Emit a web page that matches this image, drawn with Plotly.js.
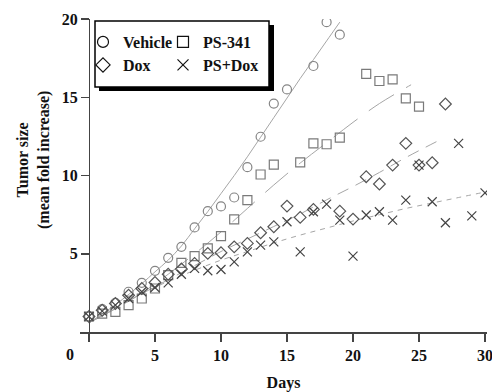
<!DOCTYPE html>
<html>
<head>
<meta charset="utf-8">
<script src="https://cdn.plot.ly/plotly-3.0.1.min.js"></script>
<style>html,body{margin:0;padding:0;background:#fff;}#chart{width:492px;height:392px;}</style>
</head>
<body>
<div id="chart"></div>
<script>
// ---- data ----
var vehDays = [0,1,2,3,4,5,6,7,8,9,10,11,12,13,14,15,17,18,19];
var vehVals = [1.0,1.47,1.87,2.58,3.15,3.92,4.75,5.45,6.69,7.73,8.03,8.6,10.54,12.48,14.6,15.5,17.0,19.8,19.0];

var psDays = [0,1,2,3,4,5,6,7,8,9,10,11,12,13,14,16,17,18,19,21,22,23,24,25];
var psVals = [1.0,1.19,1.3,1.73,2.15,2.79,3.64,4.43,4.86,5.35,6.13,7.2,8.43,10.07,10.7,10.84,12.06,12.0,12.42,16.49,16.04,16.15,14.93,14.4];

var doxDays = [0,1,2,3,4,5,6,7,8,9,10,11,12,13,14,15,16,17,19,20,21,22,23,24,25,26,27];
var doxVals = [1.0,1.4,1.83,2.36,2.79,3.17,3.7,4.03,4.39,5.03,5.07,5.45,5.67,6.35,6.73,8.05,7.33,7.84,7.73,7.22,9.93,9.46,10.67,12.06,10.67,10.82,14.57];

var pdDays = [0,1,2,3,4,5,6,7,8,9,10,11,12,13,14,15,16,17,18,19,20,21,22,23,24,25,26,27,28,29,30];
var pdVals = [1.0,1.34,1.73,2.15,2.58,2.85,3.15,3.7,4.07,3.92,4.0,4.49,5.13,5.56,5.77,7.05,5.13,7.69,8.18,7.16,4.86,7.48,7.69,7.16,8.43,10.67,8.33,6.99,12.06,7.43,8.9];

// fitted curves
var vehFitX = [0,2,4,5,6,7,8,9,10,11,12,13,14,15,16,17,18,19];
var vehFitY = [0.6,1.75,3.1,3.85,4.6,5.5,6.6,7.7,8.85,10.0,11.2,12.45,13.7,14.95,16.2,17.4,18.6,19.8];
var psFitX = [0,2,4,6,8,10,12,14,16,18,20,22,24.4];
var psFitY = [0.6,1.5,2.5,3.7,5.0,6.4,7.9,9.4,10.8,12.1,13.4,14.6,15.8];
var doxFitX = [0,2,4,6,8,10,12,14,16,18,20,22,24,26.4];
var doxFitY = [0.6,1.5,2.45,3.35,4.25,5.15,5.95,6.75,7.55,8.45,9.3,10.2,11.15,12.2];
var pdFitX = [0,2,4,6,8,10,12,14,16,18,20,22,24,26,28,30];
var pdFitY = [0.6,1.55,2.45,3.25,3.95,4.6,5.15,5.7,6.2,6.65,7.1,7.5,7.9,8.25,8.6,8.95];

var seriesNames = ['Vehicle','PS-341','Dox','PS+Dox'];
var xTicks = [0,5,10,15,20,25,30];
var xTickText = ['','5','10','15','20','25','30'];
var yTicks = [5,10,15,20];

// ---- chart ----
var serif = 'Liberation Serif, Times New Roman, serif';
var fitColor = '#a6a6a6';
function fit(x, y, dash) {
  return {x: x, y: y, type: 'scatter', mode: 'lines', showlegend: false, hoverinfo: 'skip',
          line: {color: fitColor, width: 1, dash: dash, shape: 'spline'}};
}
function pts(x, y, sym, col, size) {
  return {x: x, y: y, type: 'scatter', mode: 'markers', showlegend: false,
          marker: {symbol: sym, size: size, color: col, line: {color: col, width: 1.2}}};
}
function leg(name, sym, size, lg) {
  return {x: [null], y: [null], type: 'scatter', mode: 'markers', name: name, legend: lg,
          marker: {symbol: sym, size: size, color: '#111', line: {color: '#111', width: 1.2}}};
}

var data = [
  fit(vehFitX, vehFitY, 'solid'),
  fit(psFitX, psFitY, '30px,14px'),
  fit(doxFitX, doxFitY, '12px,8px'),
  fit(pdFitX, pdFitY, '5px,5px'),
  pts(vehDays, vehVals, 'circle-open', '#858585', 9),
  pts(psDays, psVals, 'square-open', '#7a7a7a', 9),
  pts(doxDays, doxVals, 'diamond-open', '#555555', 9),
  pts(pdDays, pdVals, 'x-thin-open', '#444444', 9),
  leg(seriesNames[0], 'circle-open', 11, 'legend'),
  leg(seriesNames[1], 'square-open', 11, 'legend2'),
  leg(seriesNames[2], 'diamond-open', 11, 'legend3'),
  leg(seriesNames[3], 'x-thin-open', 11, 'legend4')
];

function px2x(px) { return (px - 80) / 407; }
function py2y(py) { return (340 - py) / 321; }

var legFont = {family: serif, size: 16, color: '#111', weight: 'bold'};
function legBox(px, py) {
  return {orientation: 'v', x: px2x(px), xanchor: 'left', y: py2y(py), yanchor: 'middle',
          bgcolor: 'rgba(0,0,0,0)', borderwidth: 0, font: legFont, itemclick: false};
}
var layout = {
  width: 492, height: 392,
  margin: {l: 80, r: 5, t: 19, b: 52},
  paper_bgcolor: '#fff', plot_bgcolor: '#fff',
  font: {family: serif, color: '#111'},
  xaxis: {range: [-0.68, 30.15], anchor: 'free', position: 0.5 / 20.5,
          showline: true, linecolor: '#444', linewidth: 1.5, zeroline: false, showgrid: false,
          tickmode: 'array', tickvals: xTicks, ticktext: xTickText, ticklabeloverflow: 'allow',
          ticks: 'outside', ticklen: 8, tickwidth: 1.5, tickcolor: '#444',
          tickfont: {family: serif, size: 16, color: '#111', weight: 'bold'},
          title: {text: 'Days', font: {family: serif, size: 16, color: '#111', weight: 'bold'}, standoff: 14}},
  yaxis: {range: [-0.5, 20], anchor: 'free', position: 0.68 / 30.83,
          showline: true, linecolor: '#444', linewidth: 1.5, zeroline: false, showgrid: false,
          tickmode: 'array', tickvals: yTicks,
          ticks: 'outside', ticklen: 8, tickwidth: 1.5, tickcolor: '#444',
          tickfont: {family: serif, size: 16, color: '#111', weight: 'bold'}},
  legend: legBox(83, 42),
  legend2: legBox(163, 42),
  legend3: legBox(83, 65),
  legend4: legBox(163, 65),
  shapes: [
    {type: 'rect', xref: 'paper', yref: 'paper', layer: 'above',
     x0: px2x(99), x1: px2x(274), y0: py2y(91), y1: py2y(25),
     fillcolor: '#000', line: {width: 0}},
    {type: 'rect', xref: 'paper', yref: 'paper', layer: 'above',
     x0: px2x(95), x1: px2x(269), y0: py2y(87), y1: py2y(21),
     fillcolor: '#fff', line: {color: '#000', width: 1.5}}
  ],
  annotations: [
    {text: 'Tumor size<br>(mean fold increase)', xref: 'paper', yref: 'paper',
     x: px2x(33), y: py2y(160), xanchor: 'center', yanchor: 'middle', textangle: -90, showarrow: false,
     font: {family: serif, size: 16, color: '#111', weight: 'bold'}},
    {text: '0', xref: 'paper', yref: 'paper', x: px2x(70), y: py2y(354), xanchor: 'center', yanchor: 'middle', showarrow: false,
     font: {family: serif, size: 16, color: '#111', weight: 'bold'}}
  ]
};

Plotly.newPlot('chart', data, layout, {staticPlot: true, displayModeBar: false});
</script>
</body>
</html>
